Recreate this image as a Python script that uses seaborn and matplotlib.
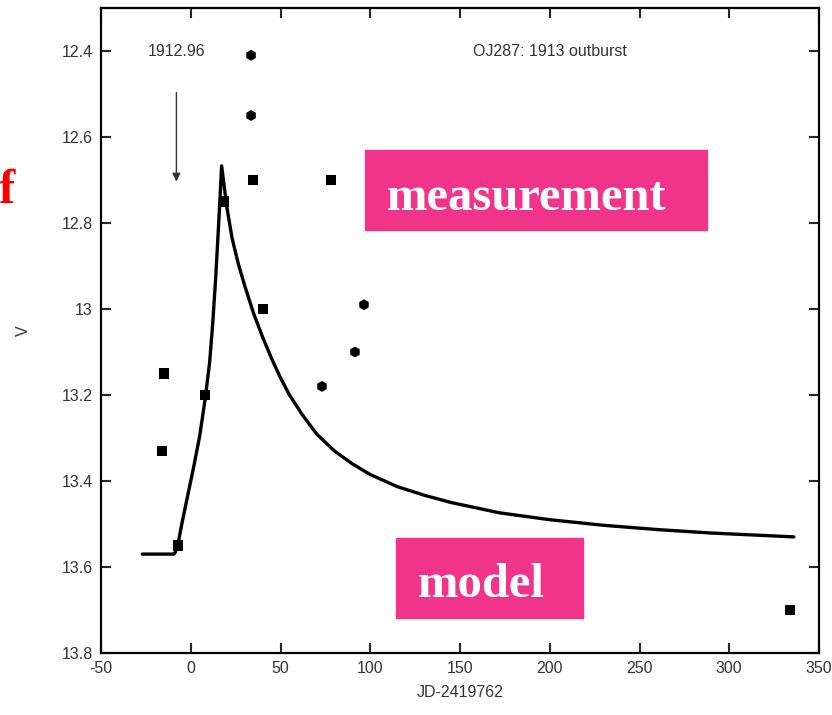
import matplotlib
matplotlib.use('Agg')
import matplotlib.pyplot as plt
from matplotlib.patches import Rectangle
import pandas as pd
import seaborn as sns

# --------------------------------------------------
# data
square_x = [-16.1, -14.9, -7.1, 7.9, 18.5, 34.6, 40.3, 78.1, 333.8]
square_v = [13.33, 13.15, 13.55, 13.20, 12.75, 12.70, 13.00, 12.70, 13.70]

star_x = [33.6, 33.6, 73.1, 91.5, 96.5]
star_v = [12.41, 12.55, 13.18, 13.10, 12.99]

model_x = [-27, -9.5, -8.5, -7, -5, -2, 1.5, 5, 8, 10.5, 12.3, 14, 15.7,
           17.2, 20, 23, 26.5, 30, 35, 40, 45, 50, 55, 62, 70, 80, 90,
           100, 115, 130, 145, 172, 200, 230, 260, 290, 336]
model_v = [13.57, 13.57, 13.565, 13.545, 13.50, 13.44, 13.37, 13.295,
           13.21, 13.125, 13.03, 12.92, 12.79, 12.667, 12.76, 12.835,
           12.895, 12.945, 13.01, 13.065, 13.115, 13.16, 13.20, 13.245,
           13.29, 13.33, 13.36, 13.385, 13.413, 13.433, 13.45, 13.474,
           13.49, 13.503, 13.513, 13.521, 13.53]

x_ticks = [-50, 0, 50, 100, 150, 200, 250, 300, 350]
y_ticks = [12.4, 12.6, 12.8, 13.0, 13.2, 13.4, 13.6, 13.8]
y_tick_labels = ['12.4', '12.6', '12.8', '13', '13.2', '13.4', '13.6', '13.8']

PINK = '#EF3489'
W, H = 832, 715

sns.set_style('ticks')
plt.rcParams['font.family'] = ['Liberation Sans', 'DejaVu Sans']

fig = plt.figure(figsize=(W / 100, H / 100), dpi=100)
ax = fig.add_axes([101 / W, 1 - 653 / H, 718 / W, 645 / H])

pts = pd.DataFrame({
    'jd': square_x + star_x,
    'v': square_v + star_v,
    'kind': ['square'] * len(square_x) + ['star'] * len(star_x),
})
model = pd.DataFrame({'jd': model_x, 'v': model_v})

sns.lineplot(data=model, x='jd', y='v', ax=ax, color='black', lw=2.4,
             sort=False, estimator=None)
ax.lines[0].set_solid_joinstyle('round')
sns.scatterplot(data=pts, x='jd', y='v', style='kind', size='kind',
                sizes={'square': 55, 'star': 62}, ax=ax,
                markers={'square': 's', 'star': 'h'}, color='black',
                edgecolor='black', linewidth=0, legend=False)

ax.set_xlim(-50, 350)
ax.set_ylim(13.8, 12.3)
ax.set_xticks(x_ticks)
ax.set_xticklabels([str(t) for t in x_ticks])
ax.set_yticks(y_ticks)
ax.set_yticklabels(y_tick_labels)
ax.tick_params(direction='in', length=7, width=1.5, top=True, right=True,
               labelsize=11.5, labelcolor='#333333', pad=6)
for sp in ax.spines.values():
    sp.set_linewidth(1.6)
    sp.set_color('black')

ax.set_xlabel('JD-2419762', fontsize=11.5, color='#333333', labelpad=6)
ax.set_ylabel('V', fontsize=11.5, color='#333333', labelpad=22)

ax.text(-8, 12.4, '1912.96', ha='center', va='center', fontsize=11.5,
        color='#333333')
ax.text(200, 12.4, 'OJ287: 1913 outburst', ha='center', va='center',
        fontsize=11.5, color='#333333')
ax.annotate('', xy=(-8, 12.71), xytext=(-8, 12.49),
            arrowprops=dict(arrowstyle='-|>', color='#333333', lw=1.0,
                            mutation_scale=12))

# pink slide labels drawn over the figure
serif = ['Liberation Serif', 'DejaVu Serif']
fig.patches.append(Rectangle((365 / W, 1 - 230 / H), 342 / W, 80 / H,
                             transform=fig.transFigure, color=PINK,
                             zorder=5))
fig.text(387 / W, 1 - 210 / H, 'measurement', fontsize=35,
         fontweight='bold', family=serif, color='white', va='baseline',
         zorder=6)
fig.patches.append(Rectangle((396 / W, 1 - 618 / H), 187 / W, 80 / H,
                             transform=fig.transFigure, color=PINK,
                             zorder=5))
fig.text(418 / W, 1 - 597 / H, 'model', fontsize=35, fontweight='bold',
         family=serif, color='white', va='baseline', zorder=6)
fig.text(-1 / W, 1 - 203 / H, 'f', fontsize=35, fontweight='bold',
         family=serif, color='red', va='baseline')

fig.savefig('out.png', dpi=100)
